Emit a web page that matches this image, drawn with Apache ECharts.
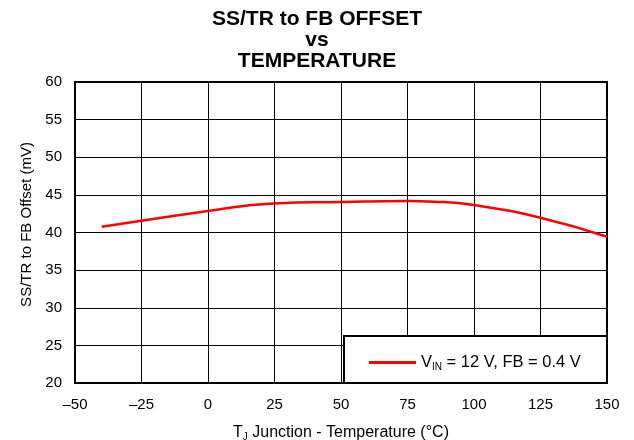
<!DOCTYPE html>
<html><head><meta charset="utf-8">
<script src="https://cdn.jsdelivr.net/npm/echarts@6/dist/echarts.min.js"></script>
<style>html,body{margin:0;padding:0;background:#fff}#c{width:634px;height:440px}</style>
</head><body><div id="c"></div>
<script>
var temps = [-40, -25, 0, 15, 25, 50, 75, 85, 100, 125, 150];
var offsets = [40.77, 41.57, 42.86, 43.6, 43.87, 44.05, 44.18, 44.1, 43.65, 41.97, 39.44];
var xTicks = [-50, -25, 0, 25, 50, 75, 100, 125, 150];
var yTicks = [20, 25, 30, 35, 40, 45, 50, 55, 60];
var seriesName = 'VIN';

var chart = echarts.init(document.getElementById('c'));
var F = 'Liberation Sans, Arial, sans-serif';
chart.setOption({
  animation: false,
  backgroundColor: '#fff',
  title: {
    text: 'SS/TR to FB OFFSET\nvs\nTEMPERATURE',
    left: 'center', top: 4,
    textStyle: {fontFamily: F, fontSize: 21, fontWeight: 'bold', color: '#000', lineHeight: 21}
  },
  grid: {left: 75, right: 27, top: 82, bottom: 57, show: true, borderColor: '#000', borderWidth: 2, containLabel: false, outerBoundsMode: 'none'},
  xAxis: {
    type: 'value', min: xTicks[0], max: xTicks[xTicks.length-1], interval: 25,
    name: '{a|T}{s|J}{a| Junction - Temperature (°C)}', nameLocation: 'middle', nameGap: 40,
    nameTextStyle: {rich: {a: {fontFamily: F, fontSize: 16, color: '#000'}, s: {fontFamily: F, fontSize: 10, color: '#000', padding: [9,0,0,0]}}},
    axisLine: {show: false}, axisTick: {show: false},
    axisLabel: {fontFamily: F, fontSize: 15, color: '#000', margin: 14, formatter: function(v){return String(v).replace('-', '\u2013');}},
    splitLine: {show: true, lineStyle: {color: '#000', width: 1}}
  },
  yAxis: {
    type: 'value', min: yTicks[0], max: yTicks[yTicks.length-1], interval: 5,
    name: 'SS/TR to FB Offset (mV)', nameLocation: 'middle', nameGap: 36,
    nameTextStyle: {fontFamily: F, fontSize: 15, color: '#000', padding: [0, 0, 0, 16]},
    axisLine: {show: false}, axisTick: {show: false},
    axisLabel: {fontFamily: F, fontSize: 15, color: '#000', margin: 13},
    splitLine: {show: true, lineStyle: {color: '#000', width: 1}}
  },
  graphic: [{
    type: 'rect', z: 50, left: 343, top: 335,
    shape: {width: 263, height: 47},
    style: {fill: '#fff', stroke: '#000', lineWidth: 2}
  }],
  legend: {
    z: 60, left: 364, top: 349, itemWidth: 47, itemHeight: 3, itemGap: 5,
    icon: 'rect',
    data: [{name: seriesName}],
    formatter: function(){ return '{a|V}{s|IN}{a| = 12 V, FB = 0.4 V}'; },
    textStyle: {rich: {a: {fontFamily: F, fontSize: 16.5, color: '#000'}, s: {fontFamily: F, fontSize: 10, color: '#000', padding: [9,0,0,0]}}}
  },
  series: [{
    name: seriesName, type: 'line', smooth: true, showSymbol: false,
    data: temps.map(function(t, i){ return [t, offsets[i]]; }),
    lineStyle: {color: '#ff0000', width: 2.5}, itemStyle: {color: '#ff0000'}
  }]
});
</script></body></html>
